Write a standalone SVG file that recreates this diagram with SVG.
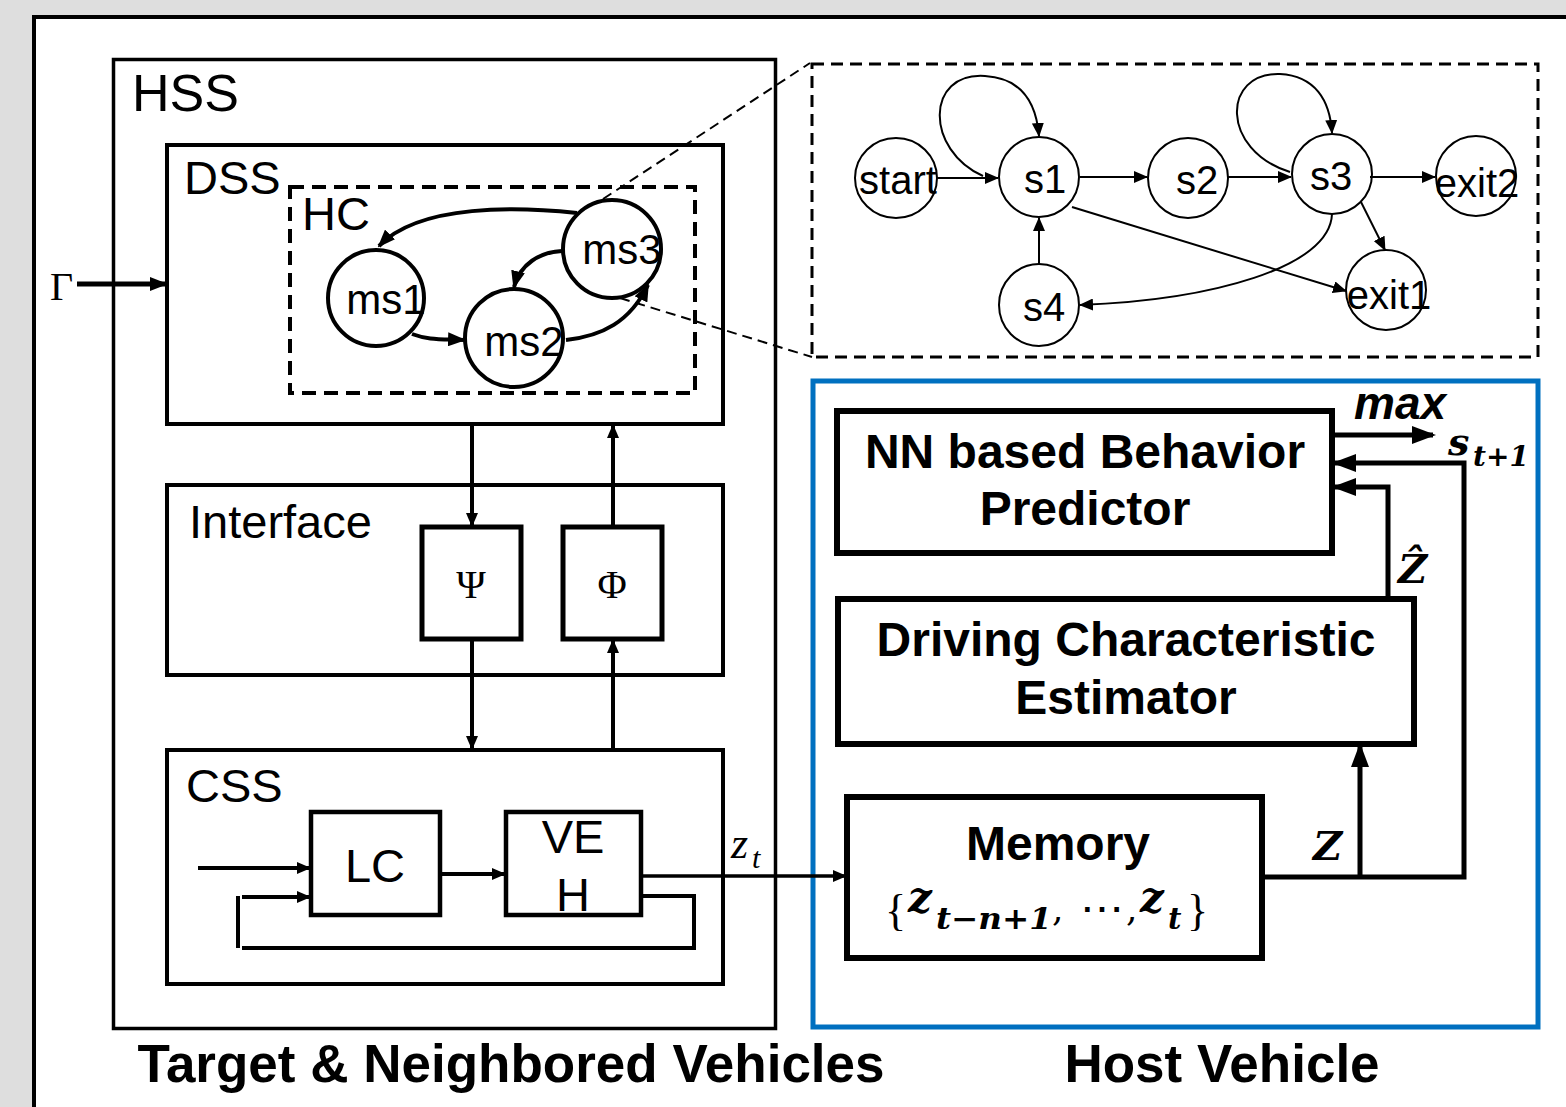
<svg xmlns="http://www.w3.org/2000/svg" width="1566" height="1107" viewBox="0 0 1566 1107">
  <style>
    .box { fill: none; stroke: #000; }
    .lbl { font-family: "Liberation Sans", Arial, sans-serif; fill: #000; }
    .bold { font-weight: bold; }
    .math { font-family: "DejaVu Serif", "Liberation Serif", serif; fill: #000; }
    .greek { font-family: "Liberation Serif", "DejaVu Serif", serif; fill: #000; }
    .st { fill: #fff; stroke: #000; stroke-width: 2; }
    .stxt { font-family: "Liberation Sans", Arial, sans-serif; font-size: 40px; text-anchor: middle; fill: #000; }
    .edge { fill: none; stroke: #000; }
  </style>
  <defs>
    <marker id="ahS" markerUnits="userSpaceOnUse" markerWidth="14" markerHeight="12" refX="13" refY="6" orient="auto">
      <path d="M0,0 L14,6 L0,12 z" fill="#000"/>
    </marker>
    <marker id="ahM" markerUnits="userSpaceOnUse" markerWidth="18" markerHeight="14" refX="16" refY="7" orient="auto">
      <path d="M0,0 L18,7 L0,14 z" fill="#000"/>
    </marker>
    <marker id="ahL" markerUnits="userSpaceOnUse" markerWidth="24" markerHeight="18" refX="21" refY="9" orient="auto">
      <path d="M0,0 L24,9 L0,18 z" fill="#000"/>
    </marker>
  </defs>

  <!-- page background and outer frame -->
  <rect x="0" y="0" width="1566" height="1107" fill="#dedede"/>
  <rect x="34" y="17" width="1600" height="1200" fill="#fff" stroke="#000" stroke-width="4"/>

  <!-- hierarchical state system of the surrounding vehicles -->
  <g id="hss">
    <rect class="box" x="113.5" y="59.5" width="662" height="969" stroke-width="3.5"/>
    <text class="lbl" x="132" y="111" font-size="52">HSS</text>
  </g>

  <g id="dss">
    <rect class="box" x="167" y="145" width="556" height="279" stroke-width="4"/>
    <text class="lbl" x="184" y="194" font-size="47">DSS</text>
  </g>

  <g id="hc">
    <rect x="290" y="187" width="405" height="206" fill="#fff" stroke="#000" stroke-width="4" stroke-dasharray="14 8"/>
    <text class="lbl" x="302" y="230" font-size="47">HC</text>
  </g>

  <g id="ms1">
    <circle cx="376" cy="298" r="48" fill="#fff" stroke="#000" stroke-width="4"/>
    <text class="lbl" x="386" y="314" font-size="42" text-anchor="middle">ms1</text>
  </g>
  <g id="ms2">
    <circle cx="514" cy="338" r="49" fill="#fff" stroke="#000" stroke-width="4"/>
    <text class="lbl" x="524" y="356" font-size="42" text-anchor="middle">ms2</text>
  </g>
  <g id="ms3">
    <circle cx="612" cy="249" r="49" fill="#fff" stroke="#000" stroke-width="4"/>
    <text class="lbl" x="622" y="264" font-size="42" text-anchor="middle">ms3</text>
  </g>

  <g id="interface">
    <rect class="box" x="167" y="485" width="556" height="190" stroke-width="4"/>
    <text class="lbl" x="189" y="538" font-size="47">Interface</text>
  </g>
  <g id="psi">
    <rect class="box" x="422" y="527" width="99" height="112" stroke-width="5"/>
    <text class="greek" x="471" y="598" font-size="40" text-anchor="middle">Ψ</text>
  </g>
  <g id="phi">
    <rect class="box" x="563" y="527" width="99" height="112" stroke-width="5"/>
    <text class="greek" x="612" y="598" font-size="40" text-anchor="middle">Φ</text>
  </g>

  <g id="css">
    <rect class="box" x="167" y="750" width="556" height="234" stroke-width="4"/>
    <text class="lbl" x="186" y="802" font-size="47">CSS</text>
  </g>
  <g id="lc">
    <rect class="box" x="311" y="812" width="129" height="103" stroke-width="4.5"/>
    <text class="lbl" x="375" y="882" font-size="47" text-anchor="middle">LC</text>
  </g>
  <g id="veh">
    <rect class="box" x="506" y="812" width="135" height="103" stroke-width="4.5"/>
    <text class="lbl" x="573" y="853" font-size="47" text-anchor="middle">VE</text>
    <text class="lbl" x="573" y="911" font-size="47" text-anchor="middle">H</text>
  </g>

  <!-- detailed state machine -->
  <g id="sm-frame">
    <rect x="812" y="64" width="726" height="293" fill="none" stroke="#000" stroke-width="3" stroke-dasharray="12 7"/>
  </g>
  <g id="start"><ellipse class="st" cx="896" cy="178" rx="41" ry="40"/><text class="stxt" x="898" y="194">start</text></g>
  <g id="s1"><ellipse class="st" cx="1039" cy="177" rx="40" ry="40"/><text class="stxt" x="1045" y="193">s1</text></g>
  <g id="s2"><ellipse class="st" cx="1188" cy="178" rx="40" ry="40"/><text class="stxt" x="1197" y="194">s2</text></g>
  <g id="s3"><ellipse class="st" cx="1332" cy="174" rx="40" ry="40"/><text class="stxt" x="1331" y="190">s3</text></g>
  <g id="exit2"><ellipse class="st" cx="1476" cy="176" rx="40" ry="40"/><text class="stxt" x="1477" y="197">exit2</text></g>
  <g id="s4"><ellipse class="st" cx="1039" cy="305" rx="40" ry="41"/><text class="stxt" x="1044" y="321">s4</text></g>
  <g id="exit1"><ellipse class="st" cx="1386" cy="290" rx="40" ry="40"/><text class="stxt" x="1389" y="309">exit1</text></g>

  <!-- host vehicle -->
  <g id="host">
    <rect x="813" y="381" width="725" height="646" fill="none" stroke="#0070c0" stroke-width="5"/>
  </g>
  <g id="predictor">
    <rect class="box" x="837" y="411" width="495" height="142" stroke-width="6"/>
    <text class="lbl bold" x="1085" y="468" font-size="48" text-anchor="middle">NN based Behavior</text>
    <text class="lbl bold" x="1085" y="525" font-size="48" text-anchor="middle">Predictor</text>
  </g>
  <g id="estimator">
    <rect class="box" x="838" y="599" width="576" height="145" stroke-width="6"/>
    <text class="lbl bold" x="1126" y="656" font-size="48" text-anchor="middle">Driving Characteristic</text>
    <text class="lbl bold" x="1126" y="714" font-size="48" text-anchor="middle">Estimator</text>
  </g>
  <g id="memory">
    <rect class="box" x="847" y="797" width="415" height="161" stroke-width="6"/>
    <text class="lbl bold" x="1058" y="860" font-size="48" text-anchor="middle">Memory</text>
    <text class="greek" x="885" y="925" font-size="44">{</text>
    <text class="math" x="908" y="912" font-size="42" font-weight="bold" font-style="italic">z</text>
    <text class="math" x="936" y="929" font-size="29" font-weight="bold" font-style="italic" textLength="116" lengthAdjust="spacingAndGlyphs">t−n+1</text>
    <text class="math" x="1052" y="921" font-size="36">,</text>
    <text class="math" x="1080" y="923" font-size="44">⋯</text>
    <text class="math" x="1126" y="921" font-size="36">,</text>
    <text class="math" x="1140" y="912" font-size="42" font-weight="bold" font-style="italic">z</text>
    <text class="math" x="1168" y="929" font-size="29" font-weight="bold" font-style="italic">t</text>
    <text class="greek" x="1187" y="925" font-size="44">}</text>
  </g>

  <!-- connectors -->
  <g id="connectors">
    <!-- HC transitions -->
    <path class="edge" stroke-width="4" d="M577 213 C520 207 420 203 379 246" marker-end="url(#ahM)"/>
    <path class="edge" stroke-width="4" d="M562 251 C540 252 520 264 514 287" marker-end="url(#ahM)"/>
    <path class="edge" stroke-width="4" d="M412 334 C428 340 440 339 464 340" marker-end="url(#ahM)"/>
    <path class="edge" stroke-width="4" d="M566 340 C602 336 630 322 648 285" marker-end="url(#ahM)"/>

    <!-- zoom guide lines -->
    <path class="edge" stroke-width="2" stroke-dasharray="10 6" d="M603 199 L810 63"/>
    <path class="edge" stroke-width="2" stroke-dasharray="10 6" d="M620 298 L812 357"/>

    <!-- state machine transitions -->
    <path class="edge" stroke-width="2" d="M937 178 H998" marker-end="url(#ahS)"/>
    <path class="edge" stroke-width="2" d="M983 176 C925 150 925 72 985 76 C1020 78 1036 100 1039 136" marker-end="url(#ahS)"/>
    <path class="edge" stroke-width="2" d="M1080 177 H1147" marker-end="url(#ahS)"/>
    <path class="edge" stroke-width="2" d="M1228 177 H1291" marker-end="url(#ahS)"/>
    <path class="edge" stroke-width="2" d="M1290 172 C1220 150 1222 72 1280 74 C1315 76 1330 100 1332 133" marker-end="url(#ahS)"/>
    <path class="edge" stroke-width="2" d="M1370 177 H1435" marker-end="url(#ahS)"/>
    <path class="edge" stroke-width="2" d="M1361 202 L1385 250" marker-end="url(#ahS)"/>
    <path class="edge" stroke-width="2" d="M1072 207 L1346 291" marker-end="url(#ahS)"/>
    <path class="edge" stroke-width="2" d="M1332 214 C1330 268 1210 300 1080 305" marker-end="url(#ahS)"/>
    <path class="edge" stroke-width="2" d="M1039 264 V218" marker-end="url(#ahS)"/>

    <!-- Gamma input -->
    <path class="edge" stroke-width="5" d="M77 284 H166" marker-end="url(#ahM)"/>

    <!-- DSS / Interface / CSS links -->
    <path class="edge" stroke-width="4" d="M472 424 V526" marker-end="url(#ahS)"/>
    <path class="edge" stroke-width="4" d="M472 639 V749" marker-end="url(#ahS)"/>
    <path class="edge" stroke-width="4" d="M613 750 V640" marker-end="url(#ahS)"/>
    <path class="edge" stroke-width="4" d="M613 527 V425" marker-end="url(#ahS)"/>

    <!-- CSS internals -->
    <path class="edge" stroke-width="4" d="M198 868 H310" marker-end="url(#ahS)"/>
    <path class="edge" stroke-width="4" d="M242 897 H310" marker-end="url(#ahS)"/>
    <path class="edge" stroke-width="4" d="M440 874 H505" marker-end="url(#ahS)"/>
    <path class="edge" stroke-width="4" d="M641 896 H694 V948 H242"/>
    <path class="edge" stroke-width="4" d="M238 896 V948"/>

    <!-- observation to memory -->
    <path class="edge" stroke-width="3.5" d="M641 876 H846" marker-end="url(#ahS)"/>

    <!-- host vehicle flows -->
    <path class="edge" stroke-width="5" d="M1333 435 H1433" marker-end="url(#ahL)"/>
    <path class="edge" stroke-width="5" d="M1262 877 H1464 V463 H1335" marker-end="url(#ahL)"/>
    <path class="edge" stroke-width="5" d="M1360 877 V746" marker-end="url(#ahL)"/>
    <path class="edge" stroke-width="5" d="M1388 599 V487 H1335" marker-end="url(#ahL)"/>
  </g>

  <!-- symbols on connectors -->
  <text class="greek" x="50" y="300" font-size="40">Γ</text>
  <text class="greek" x="731" y="858" font-size="44" font-style="italic">z</text>
  <text class="greek" x="752" y="868" font-size="30" font-style="italic">t</text>
  <text class="lbl" x="1354" y="419" font-size="46" font-weight="bold" font-style="italic">max</text>
  <text class="math" x="1448" y="455" font-size="38" font-weight="bold" font-style="italic">s</text>
  <text class="math" x="1473" y="466" font-size="28" font-weight="bold" font-style="italic">t+1</text>
  <text class="math" x="1398" y="583" font-size="40" font-weight="bold" font-style="italic">Ẑ</text>
  <text class="math" x="1313" y="860" font-size="40" font-weight="bold" font-style="italic">Z</text>

  <!-- group captions -->
  <text class="lbl bold" x="511" y="1082" font-size="53" text-anchor="middle">Target &amp; Neighbored Vehicles</text>
  <text class="lbl bold" x="1222" y="1082" font-size="53" text-anchor="middle">Host Vehicle</text>
</svg>
